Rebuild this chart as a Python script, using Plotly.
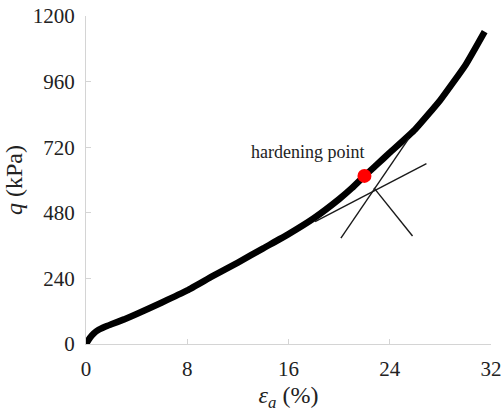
import plotly.graph_objects as go

# Axial strain (%) and deviator stress q (kPa) along the loading curve
strain = [0.0, 0.3, 0.6, 1.0, 1.5, 2.0, 3.0, 4.0, 6.0, 8.0, 10.0, 12.0, 14.0,
          16.0, 18.0, 20.0, 21.0, 22.0, 23.0, 24.0, 26.0, 28.0, 30.0, 31.5]
q_kpa = [0, 22, 38, 52, 63, 72, 90, 110, 152, 196, 248, 298, 350,
         402, 460, 530, 570, 615, 657, 700, 785, 893, 1022, 1143]

# Hardening point
hp_strain = [22.0]
hp_q = [615]

# Construction lines used to locate the hardening point
tan1_strain = [18.1, 26.9]
tan1_q = [448, 660]
tan2_strain = [20.14, 25.51]
tan2_q = [387, 752]
bisect_strain = [22.75, 25.8]
bisect_q = [571, 395]

x_ticks = [0, 8, 16, 24, 32]
y_ticks = [0, 240, 480, 720, 960, 1200]

serif = "Liberation Serif, Times New Roman, serif"

fig = go.Figure()

fig.add_trace(go.Scatter(
    x=strain, y=q_kpa, mode="lines",
    line=dict(color="black", width=6.5, shape="spline", smoothing=0.4),
    hoverinfo="skip"))

for xs, ys in [(tan1_strain, tan1_q), (tan2_strain, tan2_q), (bisect_strain, bisect_q)]:
    fig.add_trace(go.Scatter(
        x=xs, y=ys, mode="lines",
        line=dict(color="#1a1a1a", width=1.4),
        hoverinfo="skip"))

fig.add_trace(go.Scatter(
    x=hp_strain, y=hp_q, mode="markers",
    marker=dict(color="#ff0000", size=14, line=dict(width=0)),
    hoverinfo="skip"))

fig.add_annotation(
    x=17.5, y=702, text="hardening point", showarrow=False,
    font=dict(family=serif, size=18, color="#222222"))

axis_common = dict(
    showgrid=False, zeroline=False,
    showline=True, linecolor="#d4d4d4", linewidth=1.2,
    ticks="inside", ticklen=5, tickcolor="#d4d4d4", tickwidth=1.2,
    tickfont=dict(family=serif, size=21, color="#222222"),
)

fig.update_xaxes(
    range=[0, 32], tickmode="array", tickvals=x_ticks,
    ticklabelstandoff=6,
    title=dict(text="<i>ε</i><sub><i>a</i></sub> (%)",
               font=dict(family=serif, size=24, color="#222222"), standoff=6),
    **axis_common)

fig.update_yaxes(
    range=[0, 1200], tickmode="array", tickvals=y_ticks,
    ticklabelstandoff=6,
    title=dict(text="<i>q</i> (kPa)",
               font=dict(family=serif, size=24, color="#222222"), standoff=3),
    **axis_common)

fig.update_layout(
    width=503, height=412,
    margin=dict(l=86, r=12, t=16, b=68, autoexpand=False),
    paper_bgcolor="white", plot_bgcolor="white",
    showlegend=False,
)

fig.write_html("out.html")
